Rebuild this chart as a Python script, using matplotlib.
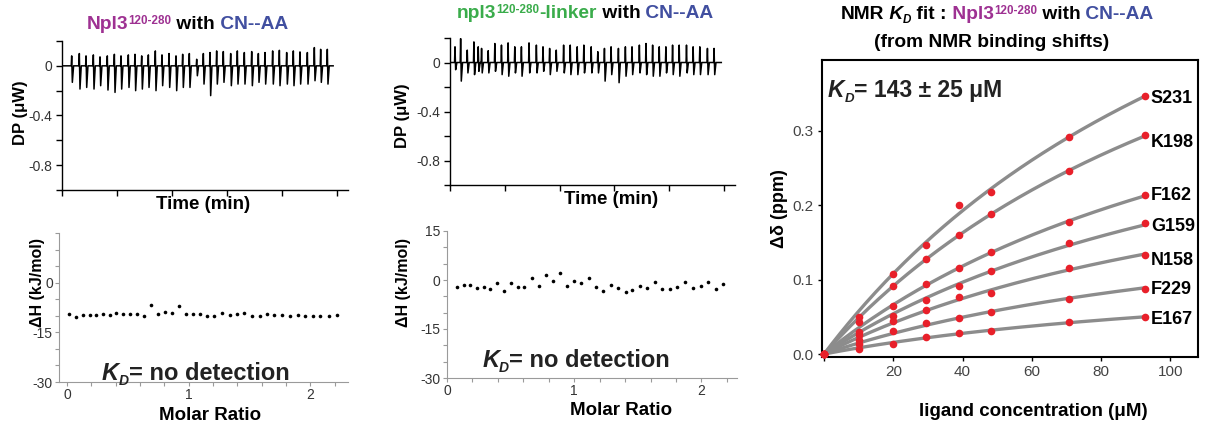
import numpy as np
import matplotlib
matplotlib.use("Agg")
import matplotlib.pyplot as plt
import matplotlib.transforms as mtransforms
from matplotlib.ticker import MultipleLocator

plt.rcParams['font.family'] = ['Liberation Sans', 'DejaVu Sans']
plt.rcParams['axes.unicode_minus'] = False

# ---------------- DATA ----------------
# raw ITC thermogram, Npl3(120-280) + CN--AA: injection time (min), spike max / min (uW)
itc1_t = [1.76, 3.15, 4.37, 5.70, 6.91, 8.24, 9.52, 10.73, 12.06, 13.27, 14.49, 15.70,
          16.97, 18.18, 19.46, 20.73, 21.94, 23.15, 24.49, 25.70, 26.91, 28.12, 29.33,
          30.67, 31.88, 33.15, 34.49, 35.70, 36.91, 38.30, 39.52, 40.85, 42.06, 43.27,
          44.61, 45.88, 47.03, 48.24]
itc1_up = [0.080, 0.099, 0.080, 0.088, 0.072, 0.080, 0.093, 0.080, 0.088, 0.093, 0.080,
           0.088, 0.120, 0.088, 0.099, 0.080, 0.093, 0.099, 0.053, 0.099, 0.107, 0.120,
           0.115, 0.099, 0.120, 0.107, 0.115, 0.099, 0.107, 0.120, 0.125, 0.107, 0.120,
           0.112, 0.107, 0.147, 0.133, 0.133]
itc1_down = [-0.133, -0.187, -0.174, -0.187, -0.160, -0.195, -0.214, -0.187, -0.174,
             -0.200, -0.187, -0.174, -0.200, -0.160, -0.174, -0.200, -0.174, -0.174,
             -0.080, -0.147, -0.240, -0.147, -0.133, -0.160, -0.147, -0.147, -0.160,
             -0.133, -0.147, -0.147, -0.160, -0.147, -0.160, -0.147, -0.147, -0.120,
             -0.133, -0.147]
itc1_end = 49.3

# raw ITC thermogram, npl3(120-280)-linker + CN--AA
itc2_t = [0.91, 1.94, 3.15, 4.36, 5.15, 5.76, 6.97, 8.18, 9.39, 10.60, 11.82, 13.03,
          14.42, 15.76, 16.97, 18.18, 19.39, 20.73, 21.94, 23.21, 24.42, 25.76, 26.97,
          28.18, 29.39, 30.73, 32.00, 33.21, 34.55, 35.76, 36.97, 38.18, 39.39, 40.61,
          41.82, 43.15, 44.36, 45.58, 46.97, 48.18]
itc2_up = [0.128, 0.195, 0.101, 0.168, 0.128, 0.115, 0.096, 0.155, 0.142, 0.160, 0.128,
           0.128, 0.160, 0.142, 0.128, 0.115, 0.101, 0.142, 0.142, 0.128, 0.142, 0.128,
           0.088, 0.115, 0.128, 0.115, 0.128, 0.128, 0.142, 0.155, 0.142, 0.128, 0.128,
           0.142, 0.142, 0.142, 0.128, 0.128, 0.115, 0.115]
itc2_down = [-0.059, -0.152, -0.085, -0.099, -0.072, -0.085, -0.085, -0.072, -0.099,
             -0.112, -0.085, -0.112, -0.085, -0.085, -0.072, -0.099, -0.072, -0.085,
             -0.099, -0.099, -0.085, -0.085, -0.085, -0.152, -0.099, -0.165, -0.112,
             -0.099, -0.085, -0.099, -0.112, -0.112, -0.085, -0.099, -0.112, -0.085,
             -0.099, -0.099, -0.099, -0.099]
itc2_end = 49.5

# integrated heats (kJ/mol) vs molar ratio
itc1_ratio = [0.014, 0.077, 0.132, 0.186, 0.241, 0.296, 0.351, 0.405, 0.460, 0.521,
              0.575, 0.636, 0.690, 0.745, 0.808, 0.863, 0.923, 0.978, 1.036, 1.096,
              1.151, 1.211, 1.274, 1.337, 1.397, 1.458, 1.521, 1.584, 1.644, 1.704,
              1.767, 1.830, 1.896, 1.959, 2.022, 2.082, 2.151, 2.219]
itc1_dH = [-9.6, -10.5, -9.8, -9.8, -9.8, -9.5, -9.8, -9.1, -9.6, -9.6, -9.6, -10.1,
           -6.7, -9.5, -8.9, -9.1, -7.0, -9.5, -9.5, -9.5, -10.0, -10.1, -9.3, -9.8,
           -9.6, -9.3, -10.0, -10.0, -9.6, -9.8, -9.8, -10.0, -9.8, -10.1, -10.1, -10.0,
           -10.1, -9.8]
itc2_ratio = [0.079, 0.131, 0.184, 0.236, 0.289, 0.341, 0.394, 0.451, 0.504, 0.556,
              0.609, 0.669, 0.722, 0.780, 0.832, 0.892, 0.945, 0.997, 1.055, 1.115,
              1.173, 1.226, 1.286, 1.344, 1.404, 1.457, 1.514, 1.575, 1.635, 1.693,
              1.753, 1.811, 1.871, 1.934, 1.995, 2.055, 2.113, 2.173]
itc2_dH = [-2.2, -1.5, -1.5, -2.6, -2.2, -2.9, -1.0, -3.4, -0.8, -2.0, -2.0, 0.5, -1.8,
           1.5, -0.3, 2.2, -1.8, -0.3, -1.0, 0.5, -2.2, -3.3, -1.6, -2.6, -3.6, -3.1,
           -1.8, -2.6, -0.7, -2.9, -2.9, -2.2, -0.5, -2.6, -1.7, -0.7, -2.9, -1.2]

# NMR chemical shift perturbations (ppm) vs ligand concentration (uM)
nmr_conc = [0, 10, 20, 29.4, 38.9, 48.1, 70.8, 92.6]
s231 = [0, 0.0495, 0.107, 0.147, 0.200, 0.218, 0.291, 0.346]
k198 = [0, 0.043, 0.091, 0.127, 0.160, 0.188, 0.246, 0.294]
f162 = [0, 0.029, 0.065, 0.094, 0.116, 0.137, 0.178, 0.213]
g159 = [0, 0.025, 0.051, 0.072, 0.091, 0.111, 0.149, 0.176]
n158 = [0, 0.019, 0.044, 0.059, 0.077, 0.0815, 0.115, 0.133]
f229 = [0, 0.014, 0.031, 0.042, 0.049, 0.057, 0.074, 0.087]
e167 = [0, 0.0068, 0.0135, 0.0225, 0.028, 0.0315, 0.043, 0.0496]
res_names = ["S231", "K198", "F162", "G159", "N158", "F229", "E167"]
KD_FIT = 143.0
# -------------------------------------

PURPLE = "#9e3192"
GREEN = "#3aac4b"
BLUE = "#414fa0"
DOT_RED = "#e8202a"
FIT_GRAY = "#8c8c8c"
TICK_COL = "#333333"

W, H = 1207, 426
fig = plt.figure(figsize=(W / 100, H / 100), dpi=100)


def px_axes(l, t, r, b):
    return fig.add_axes([l / W, 1 - b / H, (r - l) / W, (b - t) / H])


def thermogram(t_inj, up, down, t_end):
    xs, ys = [0.0], [0.0]
    for t, u, d in zip(t_inj, up, down):
        xs += [t - 0.08, t, t + 0.12, t + 0.35]
        ys += [0.0, u, d, 0.0]
    xs.append(t_end)
    ys.append(0.0)
    return xs, ys


def rich_text(x, y, parts, ha="left"):
    # x, y in display pixels; parts = (text, color, size, style, dy)
    r = fig.canvas.get_renderer()
    ident = mtransforms.IdentityTransform()
    items = []
    for s, c, size, style, dy in parts:
        t = fig.text(0, 0, s, color=c, fontsize=size, fontweight="bold",
                     fontstyle=style, ha="left", va="baseline", transform=ident)
        items.append((t, t.get_window_extent(r).width, dy))
    total = sum(w for _, w, _ in items)
    x0 = x - total / 2 if ha == "center" else x
    for t, w, dy in items:
        t.set_position((x0, y + dy))
        x0 += w


def style_raw(ax, label_x, label_y):
    ax.set_xlim(0, 52)
    ax.set_ylim(-1.0, 0.2)
    ax.set_yticks([-0.8, -0.4, 0])
    ax.set_yticklabels(["-0.8", "-0.4", "0"])
    ax.yaxis.set_minor_locator(MultipleLocator(0.2))
    ax.set_xticks([0, 10, 20, 30, 40, 50])
    ax.set_xticklabels([])
    for s in ("top", "right"):
        ax.spines[s].set_visible(False)
    for s in ("left", "bottom"):
        ax.spines[s].set_linewidth(1.0)
    ax.tick_params(which="both", direction="out", length=4, width=1.0,
                   labelsize=10, labelcolor=TICK_COL, pad=3)
    ax.set_ylabel("DP (μW)", fontsize=12, fontweight="bold")
    ax.yaxis.set_label_coords(label_x, label_y)
    ax.set_xlabel("Time (min)", fontsize=13.5, fontweight="bold")


def style_heat(ax, xmin, xmax, label_x, label_y, show15):
    ax.set_xlim(xmin, xmax)
    ax.set_ylim(-30, 15)
    yt = [-30, -15, 0, 15] if show15 else [-30, -15, 0]
    ax.set_yticks(yt)
    ax.set_yticklabels([str(v) for v in yt])
    ax.yaxis.set_minor_locator(MultipleLocator(5))
    ax.set_xticks([0, 1, 2])
    ax.xaxis.set_minor_locator(MultipleLocator(0.2))
    for s in ("top", "right"):
        ax.spines[s].set_visible(False)
    for s in ("left", "bottom"):
        ax.spines[s].set_linewidth(0.8)
        ax.spines[s].set_color("#9a9a9a")
    ax.tick_params(which="both", direction="out", length=3, width=0.8,
                   color="#9a9a9a", labelsize=10, labelcolor=TICK_COL, pad=1.5)
    ax.set_ylabel("ΔH (kJ/mol)", fontsize=11.5, fontweight="bold")
    ax.yaxis.set_label_coords(label_x, label_y)
    ax.set_xlabel("Molar Ratio", fontsize=13.5, fontweight="bold")


# ---- panel 1: Npl3 ----
ax1 = px_axes(62, 41, 348, 190)
xs, ys = thermogram(itc1_t, itc1_up, itc1_down, itc1_end)
ax1.plot(xs, ys, color="black", lw=1.1)
style_raw(ax1, -0.12, 0.52)
ax1.xaxis.set_label_coords(0.493, -0.04)

ax1b = px_axes(59, 233, 348, 382)
ax1b.plot(itc1_ratio, itc1_dH, "o", color="black", ms=2.6, mec="none")
style_heat(ax1b, -0.066, 2.31, -0.05, 0.67, False)
ax1b.xaxis.set_label_coords(0.522, -0.17)

# ---- panel 2: npl3-linker ----
ax2 = px_axes(450, 38, 735, 185)
xs, ys = thermogram(itc2_t, itc2_up, itc2_down, itc2_end)
ax2.plot(xs, ys, color="black", lw=1.1)
style_raw(ax2, -0.14, 0.47)
ax2.xaxis.set_label_coords(0.565, -0.04)

ax2b = px_axes(447, 231, 737, 378)
ax2b.plot(itc2_ratio, itc2_dH, "o", color="black", ms=2.6, mec="none")
style_heat(ax2b, 0, 2.28, -0.124, 0.65, True)
ax2b.xaxis.set_label_coords(0.60, -0.16)

# ---- panel 3: NMR titration ----
ax3 = px_axes(822, 60, 1198, 357)
conc = np.array(nmr_conc)
frac = conc / (KD_FIT + conc)
c_fit = np.linspace(0, conc[-1], 200)
frac_fit = c_fit / (KD_FIT + c_fit)
label_dy = [-0.003, -0.010, 0.0, -0.005, -0.008, 0.0, -0.003]
for name, vals, dy in zip(res_names, [s231, k198, f162, g159, n158, f229, e167], label_dy):
    v = np.array(vals)
    dmax = (frac @ v) / (frac @ frac)
    ax3.plot(c_fit, dmax * frac_fit, color=FIT_GRAY, lw=2.4, zorder=1,
             solid_capstyle="round")
    ax3.plot(conc, v, "o", color=DOT_RED, ms=5.5, mec="none", zorder=3, clip_on=False)
    ax3.text(conc[-1] + 1.8, v[-1] + dy, name, fontsize=13, fontweight="bold",
             va="center", ha="left")
ax3.set_xlim(-0.6, 108)
ax3.set_ylim(-0.004, 0.395)
ax3.set_xticks([0, 20, 40, 60, 80, 100])
ax3.set_xticklabels(["", "20", "40", "60", "80", "100"])
ax3.set_yticks([0, 0.1, 0.2, 0.3])
ax3.set_yticklabels(["0.0", "0.1", "0.2", "0.3"])
for s in ax3.spines.values():
    s.set_linewidth(1.5)
ax3.tick_params(direction="out", length=3, width=1.0, labelsize=11,
                labelcolor="#444444", pad=3)
ax3.set_ylabel("Δδ (ppm)", fontsize=13, fontweight="bold")
ax3.yaxis.set_label_coords(-0.09, 0.5)
ax3.set_xlabel("ligand concentration (μM)", fontsize=13.5, fontweight="bold")
ax3.xaxis.set_label_coords(0.561, -0.155)

# ---- rich texts (titles, KD annotations) ----
TS, SS = 13.8, 8.4
rich_text(187, H - 29, [("Npl3", PURPLE, TS, "normal", 0),
                        ("120-280", PURPLE, SS, "normal", 5),
                        (" with", "black", TS, "normal", 0),
                        (" CN--AA", BLUE, TS, "normal", 0)], ha="center")
rich_text(585, H - 18, [("npl3", GREEN, TS, "normal", 0),
                        ("120-280", GREEN, SS, "normal", 5),
                        ("-linker", GREEN, TS, "normal", 0),
                        (" with", "black", TS, "normal", 0),
                        (" CN--AA", BLUE, TS, "normal", 0)], ha="center")
rich_text(997, H - 19, [("NMR", "black", TS, "normal", 0),
                        (" K", "black", TS, "italic", 0),
                        ("D", "black", SS, "italic", -4),
                        (" fit :", "black", TS, "normal", 0),
                        (" Npl3", PURPLE, TS, "normal", 0),
                        ("120-280", PURPLE, SS, "normal", 5),
                        (" with", "black", TS, "normal", 0),
                        (" CN--AA", BLUE, TS, "normal", 0)], ha="center")
rich_text(992, H - 47, [("(from NMR binding shifts)", "black", TS, "normal", 0)],
          ha="center")

for ax, pos in [(ax1b, (0.149, 0.015)), (ax2b, (0.121, 0.075))]:
    x, y = ax.transAxes.transform(pos)
    rich_text(x, y, [("K", "#222222", 17, "italic", 0),
                     ("D", "#222222", 10, "italic", -5),
                     ("= no detection", "#222222", 17, "normal", 0)])
x, y = ax3.transAxes.transform((0.016, 0.875))
rich_text(x, y, [("K", "#222222", 16.5, "italic", 0),
                 ("D", "#222222", 9.5, "italic", -5),
                 ("= 143 ± 25 μM", "#222222", 16.5, "normal", 0)])

fig.savefig("out.png", dpi=100)
